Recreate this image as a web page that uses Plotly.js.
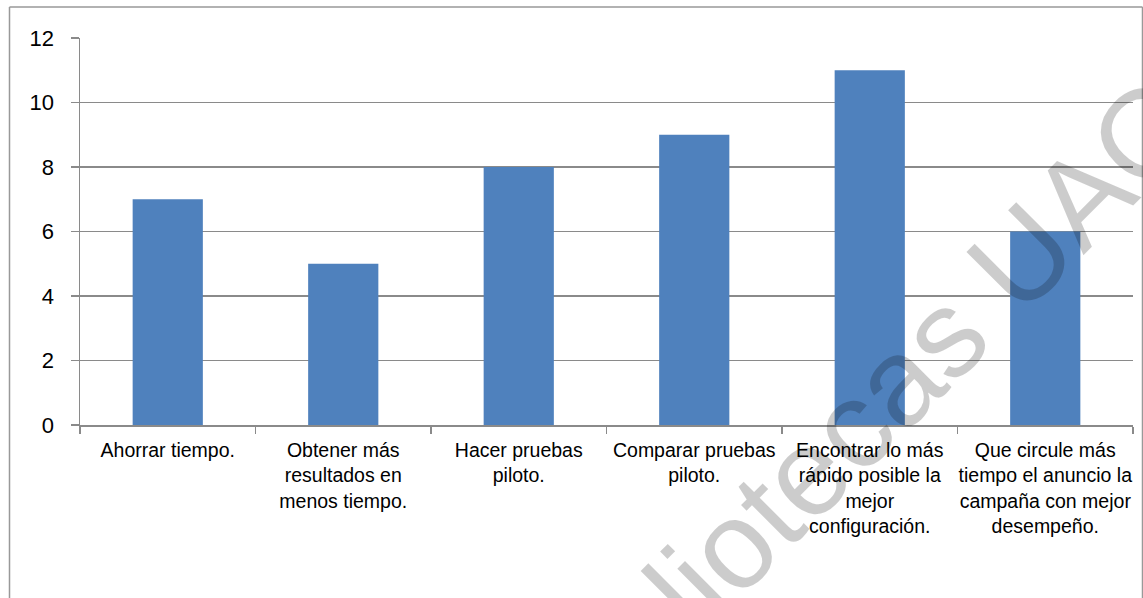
<!DOCTYPE html>
<html>
<head>
<meta charset="utf-8">
<script src="https://cdn.plot.ly/plotly-3.0.1.min.js"></script>
<style>
html,body{margin:0;padding:0;background:#fff;}
#chart{width:1143px;height:598px;}
</style>
</head>
<body>
<div id="chart"></div>
<script>
const categories = [
  "Ahorrar tiempo.",
  "Obtener más<br>resultados en<br>menos tiempo.",
  "Hacer pruebas<br>piloto.",
  "Comparar pruebas<br>piloto.",
  "Encontrar lo más<br>rápido posible la<br>mejor<br>configuración.",
  "Que circule más<br>tiempo el anuncio la<br>campaña con mejor<br>desempeño."
];
const values = [7, 5, 8, 9, 11, 6];
const yTicks = [0, 2, 4, 6, 8, 10, 12];
const watermark = "Bibliotecas UAQ";

const W = 1143, H = 598;
const L = 80, R = 10, T = 38, B = 173;
const pw = W - L - R, ph = H - T - B;
const px = v => (v - L) / pw;
const py = v => (H - B - v) / ph;

const gray = "#8a8a8a";

const trace = {
  type: "bar",
  x: categories,
  y: values,
  marker: {color: "#4f81bd", line: {width: 0}},
  hoverinfo: "none"
};

const layout = {
  width: W, height: H,
  margin: {l: L, r: R, t: T, b: B, pad: 0},
  paper_bgcolor: "#fff",
  plot_bgcolor: "#fff",
  showlegend: false,
  bargap: 0.6,
  font: {family: "Liberation Sans, Arial, sans-serif", color: "#000"},
  xaxis: {
    type: "category",
    showgrid: false,
    zeroline: false,
    showline: true,
    linecolor: gray,
    linewidth: 1.5,
    ticks: "outside",
    tickson: "boundaries",
    ticklen: 7,
    tickcolor: gray,
    tickwidth: 1.5,
    tickangle: 0,
    tickfont: {size: 19.5, color: "#000"},
    ticklabelstandoff: 7
  },
  yaxis: {
    range: [0, 12],
    tickvals: yTicks,
    ticktext: yTicks.map(String),
    showgrid: true,
    gridcolor: gray,
    gridwidth: 1.5,
    zeroline: false,
    showline: true,
    linecolor: gray,
    linewidth: 1.5,
    ticks: "outside",
    ticklen: 8,
    tickcolor: gray,
    tickwidth: 1.5,
    tickfont: {size: 22, color: "#000"},
    ticklabelstandoff: 12
  },
  shapes: [
    {type: "line", xref: "paper", yref: "paper", x0: px(9.5), x1: px(1142.5), y0: py(7), y1: py(7), line: {color: "#999", width: 1.5}},
    {type: "line", xref: "paper", yref: "paper", x0: px(9.5), x1: px(9.5), y0: py(7), y1: py(620), line: {color: "#999", width: 1.5}},
    {type: "line", xref: "paper", yref: "paper", x0: px(1142.5), x1: px(1142.5), y0: py(7), y1: py(620), line: {color: "#999", width: 1.5}}
  ],
  annotations: [
    {
      text: watermark,
      xref: "paper", yref: "paper",
      x: px(860), y: py(418),
      xanchor: "center", yanchor: "middle",
      showarrow: false,
      textangle: -45,
      font: {size: 124, color: "rgba(0,0,0,0.2)", family: "Liberation Sans, Arial, sans-serif"}
    }
  ]
};

Plotly.newPlot("chart", [trace], layout, {displayModeBar: false, staticPlot: true});
</script>
</body>
</html>
